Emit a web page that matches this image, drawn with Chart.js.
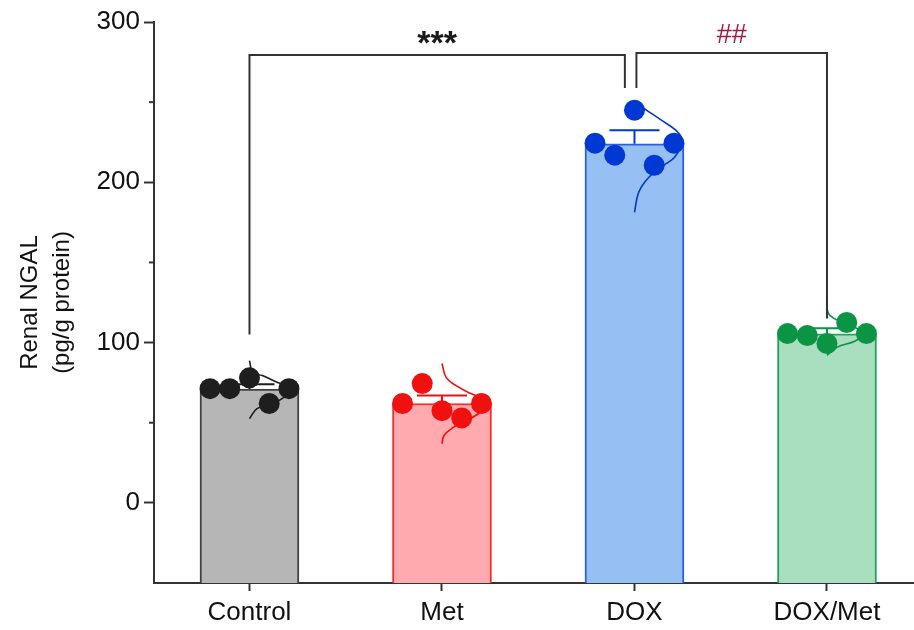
<!DOCTYPE html>
<html>
<head>
<meta charset="utf-8">
<script src="https://cdn.jsdelivr.net/npm/chart.js@4.4.1/dist/chart.umd.min.js"></script>
<style>
  html, body { margin: 0; padding: 0; background: #fff; overflow: hidden; }
  #wrap { width: 914px; height: 630px; }
</style>
</head>
<body>
<div id="wrap"><canvas id="ngalChart" width="914" height="630"></canvas></div>
<script>
// groups and values
const groups = ["Control", "Met", "DOX", "DOX/Met"];
const barMeans = [71, 62, 224, 105.5];
const errTops = [74, 67, 232.5, 109];

// individual animals, left to right inside each bar
const controlPts = [71.25, 71.25, 78, 62, 71.25];
const metPts = [62, 74.4, 57.5, 53, 62];
const doxPts = [224.4, 216.9, 245, 210.6, 224.4];
const doxMetPts = [105.6, 104.4, 99.4, 112.5, 105.6];

// half-violin outlines: [value, relative density]
const controlCurve = [[88.75, 0], [81.25, 0.07], [79.4, 0.27], [75, 0.61], [71.9, 0.9], [65, 0.69], [61.9, 0.48], [58.75, 0.16], [52.5, 0]];
const metCurve = [[86.9, 0], [78.1, 0.09], [73.1, 0.3], [68.75, 0.57], [65.6, 0.83], [61.9, 1], [55.6, 0.77], [51.25, 0.51], [46.9, 0.23], [41.9, 0.04], [36.9, 0]];
const doxCurve = [[250, 0.06], [246, 0.21], [238.75, 0.57], [230.6, 0.94], [224.4, 1], [215.6, 0.85], [210.6, 0.62], [203, 0.3], [193.75, 0.09], [181.25, 0]];
const doxMetCurve = [[121, 0], [117, 0.06], [112.5, 0.32], [108.75, 0.64], [105.6, 0.81], [101, 0.6], [97, 0.21], [92, 0]];

// significance brackets
const bracketPairs = [[0, 2], [2, 3]];
const bracketTops = [279.4, 280.6];
const bracketEnds = [[105, 258.75], [258.75, 115]];
const bracketLabels = ["***", "##"];

const yTicks = [-50, 0, 50, 100, 150, 200, 250, 300];

const fillColors = ["#b6b6b6", "#ffaaae", "#96c0f4", "#a9dfbf"];
const edgeColors = ["#404040", "#f03030", "#2a60e0", "#22a25a"];
const dotColors = ["#1e1e1e", "#f01010", "#0038d4", "#0a9444"];
const labelColors = ["#1a1a1a", "#a01c48"];

const FONT = "'Liberation Sans', Arial, sans-serif";
const AXIS = "#333333";
const STEP = 0.1025;      // jitter step between dots, x units
const VIOLIN = 0.245;     // violin max width, x units
const Y_MIN = -50;

const allPts = [controlPts, metPts, doxPts, doxMetPts];
const allCurves = [controlCurve, metCurve, doxCurve, doxMetCurve];

const datasets = [
  {
    type: "bar",
    data: barMeans.map((m, i) => ({ x: i, y: [Y_MIN, m] })),
    backgroundColor: fillColors,
    borderColor: edgeColors,
    borderWidth: 2,
    borderSkipped: "start",
    barThickness: 99,
    grouped: false,
    order: 3,
  },
];

allCurves.forEach((c, i) => {
  datasets.push({
    type: "line",
    data: c.map(([v, d]) => ({ x: i + d * VIOLIN, y: v })),
    borderColor: dotColors[i],
    borderWidth: 1.6,
    pointRadius: 0,
    tension: 0.4,
    fill: false,
    order: 2,
  });
});

allPts.forEach((p, i) => {
  datasets.push({
    type: "scatter",
    data: p.map((v, k) => ({ x: i + (k - 2) * STEP, y: v })),
    backgroundColor: dotColors[i],
    borderColor: dotColors[i],
    borderWidth: 0,
    pointRadius: 10.5,
    order: 1,
  });
});

// error bars right after the bars, under curves and dots
const errorBars = {
  id: "errorBars",
  afterDatasetDraw(chart, args) {
    if (args.index !== 0) return;
    const { ctx, scales } = chart;
    const x = scales.x, y = scales.y;
    ctx.save();
    ctx.lineWidth = 2;
    barMeans.forEach((m, i) => {
      const cx = x.getPixelForValue(i);
      const hw = x.getPixelForValue(i + 0.13) - cx;
      const y0 = y.getPixelForValue(m);
      const y1 = y.getPixelForValue(errTops[i]);
      ctx.strokeStyle = dotColors[i];
      ctx.beginPath();
      ctx.moveTo(cx, y0);
      ctx.lineTo(cx, y1);
      ctx.moveTo(cx - hw, y1);
      ctx.lineTo(cx + hw, y1);
      ctx.stroke();
    });
    ctx.restore();
  },
};

const extras = {
  id: "extras",
  afterDraw(chart) {
    const { ctx, scales } = chart;
    const x = scales.x, y = scales.y;
    ctx.save();
    // minor y ticks
    ctx.strokeStyle = AXIS;
    ctx.lineWidth = 2;
    yTicks.forEach((t) => {
      if (t % 100 === 0 || t === Y_MIN) return;
      const py = y.getPixelForValue(t);
      ctx.beginPath();
      ctx.moveTo(y.right - 5, py);
      ctx.lineTo(y.right, py);
      ctx.stroke();
    });
    // brackets
    const legOffsets = [[0, -0.05], [0.01, 0]];
    bracketPairs.forEach(([a, b], i) => {
      const xa = x.getPixelForValue(a + legOffsets[i][0]);
      const xb = x.getPixelForValue(b + legOffsets[i][1]);
      const yt = y.getPixelForValue(bracketTops[i]);
      ctx.strokeStyle = AXIS;
      ctx.lineWidth = 2;
      ctx.beginPath();
      ctx.moveTo(xa, y.getPixelForValue(bracketEnds[i][0]));
      ctx.lineTo(xa, yt);
      ctx.lineTo(xb, yt);
      ctx.lineTo(xb, y.getPixelForValue(bracketEnds[i][1]));
      ctx.stroke();
      ctx.fillStyle = labelColors[i];
      ctx.textAlign = "center";
      ctx.textBaseline = "alphabetic";
      if (i === 0) {
        ctx.font = "bold 34px " + FONT;
        ctx.fillText(bracketLabels[i], (xa + xb) / 2, yt - 1);
      } else {
        ctx.font = "27px " + FONT;
        ctx.fillText(bracketLabels[i], (xa + xb) / 2, yt - 10);
      }
    });
    ctx.restore();
  },
};

new Chart(document.getElementById("ngalChart"), {
  type: "bar",
  data: { datasets },
  options: {
    responsive: false,
    animation: false,
    layout: { autoPadding: false, padding: { top: 22, right: 0, bottom: 0, left: 0 } },
    plugins: { legend: { display: false }, tooltip: { enabled: false } },
    scales: {
      x: {
        type: "linear",
        min: -0.496,
        max: 3.452,
        offset: false,
        afterFit(scale) {
          scale.height = 47;
          scale.paddingLeft = 0;
          scale.paddingRight = 0;
        },
        afterBuildTicks(scale) { scale.ticks = groups.map((g, i) => ({ value: i })); },
        border: { color: AXIS, width: 2 },
        grid: { offset: false, drawOnChartArea: false, tickLength: 8, tickColor: AXIS, tickWidth: 2 },
        ticks: {
          callback: (v) => groups[v],
          font: { family: FONT, size: 26 },
          color: "#111",
          padding: 6,
          maxRotation: 0,
        },
      },
      y: {
        min: Y_MIN,
        max: 300,
        afterFit(scale) { scale.width = 154; },
        afterBuildTicks(scale) { scale.ticks = yTicks.map((v) => ({ value: v })); },
        border: { color: AXIS, width: 2 },
        grid: {
          drawOnChartArea: false,
          tickLength: 10,
          tickWidth: 2,
          tickColor: (c) => (c.tick && c.tick.value % 100 === 0 ? AXIS : "rgba(0,0,0,0)"),
        },
        ticks: {
          callback: (v) => (v % 100 === 0 ? String(v) : ""),
          font: { family: FONT, size: 26 },
          color: "#111",
          padding: 4,
        },
        title: {
          display: true,
          text: ["Renal NGAL", "(pg/g protein)"],
          font: { family: FONT, size: 24, lineHeight: 1.35 },
          color: "#111",
          padding: { top: 14, bottom: 0 },
        },
      },
    },
  },
  plugins: [errorBars, extras],
});
</script>
</body>
</html>
